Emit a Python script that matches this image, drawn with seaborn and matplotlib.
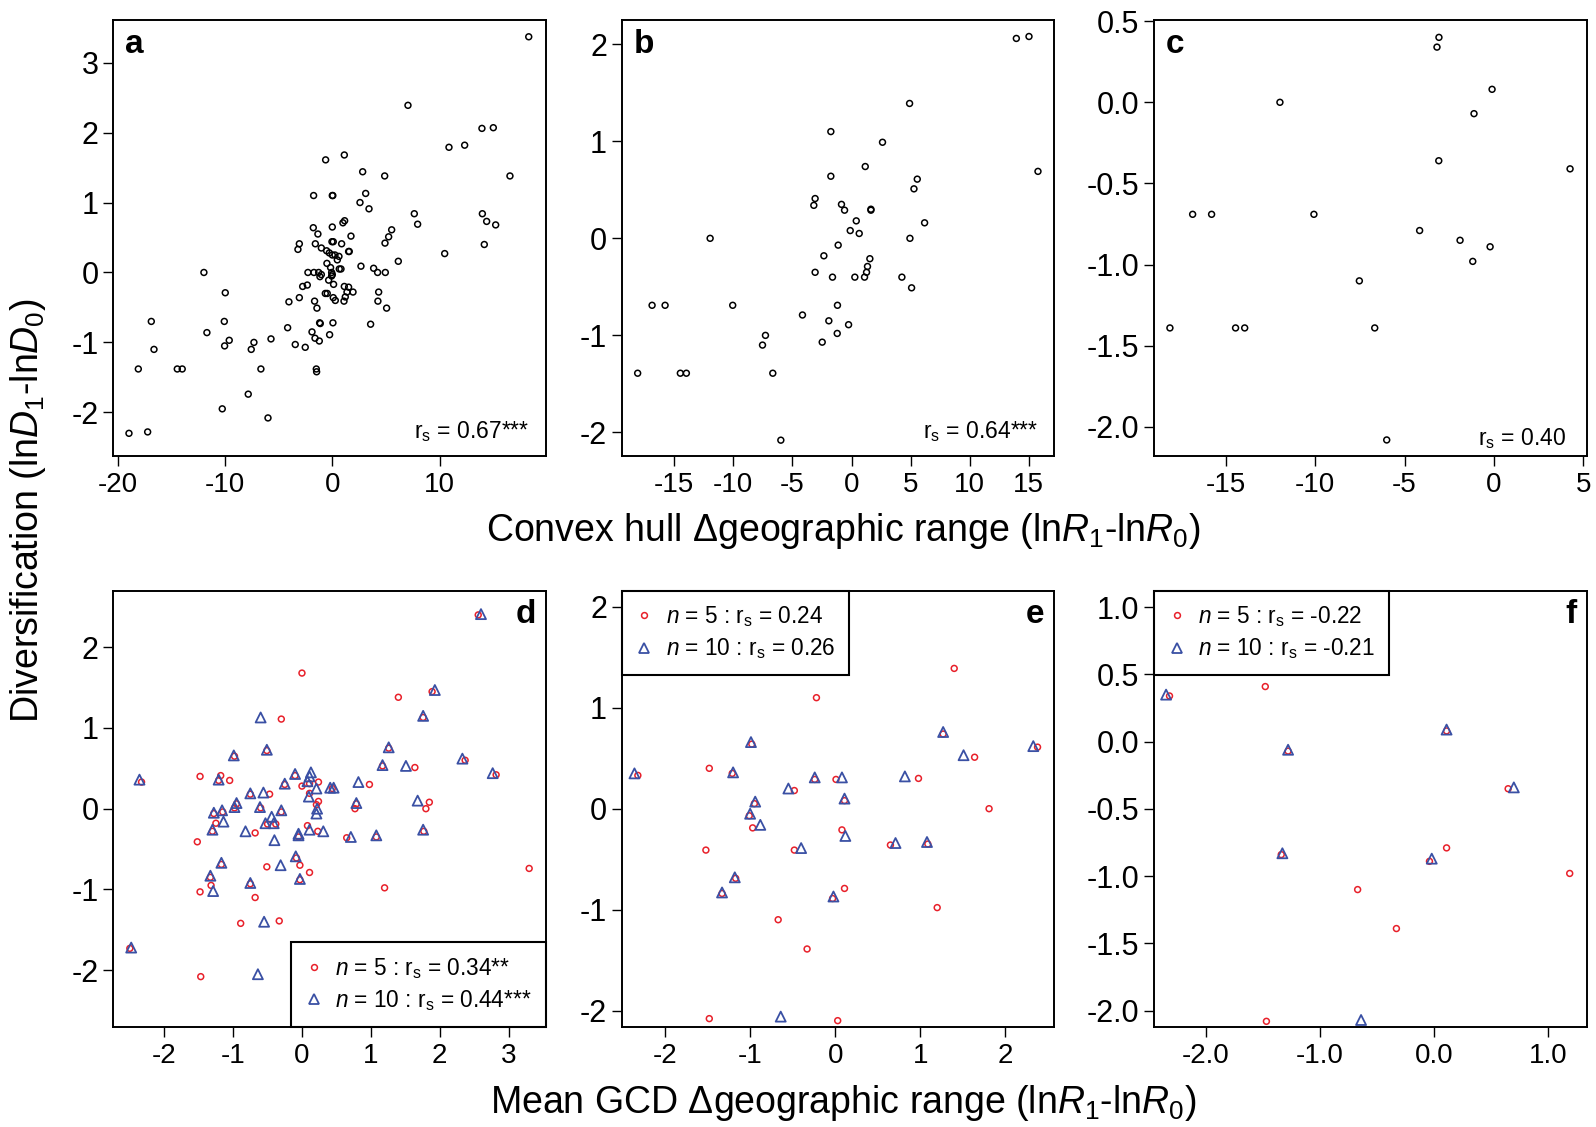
import matplotlib
matplotlib.use("Agg")
import matplotlib.pyplot as plt
from matplotlib.lines import Line2D
import seaborn as sns

# ---- data ----
# a: convex hull range change vs diversification (all)
a_x = [18.3, 7.05, 13.94, 15.0, 10.87, 12.33, 16.55, -0.62, 1.12, 2.83,
       4.88, -1.74, 0.0, 0.05, 3.11, 2.58, 3.42, 7.64, 7.95, 13.98,
       14.38, 15.22, 14.16, 10.47, 0.99, 1.15, -1.77, -1.34, 0.0, 1.74,
       5.53, 5.25, 4.91, -3.07, -3.2, -1.58, -1.02, -0.03, 0.09, 0.87,
       -0.53, -0.28, 0.0, 0.25, 0.62, 0.47, 1.58, 1.52, -0.5, -0.16,
       0.65, 0.81, -0.06, 0.0, -0.06, -1.15, -1.02, -2.27, -1.71, -1.27,
       -0.34, 0.12, 2.67, 3.85, 4.22, 4.94, 6.15, -11.96, -2.76, -2.33,
       -3.07, -4.04, -1.65, -1.43, -0.65, -0.47, 0.09, 0.28, 1.12, 1.52,
       1.37, 1.93, 1.21, 1.09, 4.32, 4.25, 5.06, 3.57, -9.97, -10.06,
       -16.86, -11.68, -16.61, -10.03, -9.6, -7.3, -7.55, -5.71, -4.16, -3.45,
       -2.52, -1.18, -1.12, -1.89, -1.61, -1.21, -0.25, 0.06, -18.07, -14.44,
       -13.98, -6.65, -1.49, -1.46, -7.83, -10.25, -5.99, -18.94, -17.2]
a_y = [3.37, 2.39, 2.06, 2.07, 1.79, 1.82, 1.38, 1.61, 1.68, 1.44,
       1.38, 1.10, 1.10, 1.10, 1.13, 1.0, 0.91, 0.84, 0.69, 0.84,
       0.73, 0.68, 0.40, 0.27, 0.71, 0.74, 0.64, 0.55, 0.65, 0.52,
       0.61, 0.51, 0.42, 0.41, 0.33, 0.41, 0.35, 0.44, 0.44, 0.41,
       0.31, 0.28, 0.25, 0.25, 0.23, 0.18, 0.30, 0.30, 0.13, 0.07,
       0.05, 0.05, 0.0, -0.03, -0.05, -0.06, -0.03, 0.0, 0.0, 0.0,
       -0.11, -0.17, 0.09, 0.06, 0.0, 0.0, 0.16, 0.0, -0.2, -0.18,
       -0.36, -0.42, -0.41, -0.51, -0.30, -0.30, -0.36, -0.40, -0.20, -0.21,
       -0.28, -0.28, -0.35, -0.41, -0.28, -0.41, -0.51, -0.74, -0.29, -0.70,
       -0.70, -0.86, -1.10, -1.05, -0.97, -1.0, -1.10, -0.95, -0.79, -1.03,
       -1.07, -0.72, -0.73, -0.85, -0.94, -0.98, -0.89, -0.72, -1.38, -1.38,
       -1.38, -1.38, -1.38, -1.42, -1.74, -1.95, -2.08, -2.30, -2.28]

b_x = [13.94, 15.01, 4.91, -1.75, 2.62, 1.16, -1.75, 15.77, 5.56, 5.28,
       -3.08, -3.19, -0.85, -0.59, 1.64, 1.64, 0.40, -0.11, 0.65, 6.18,
       -11.96, 4.94, -1.13, -2.34, 1.55, 1.35, 1.27, 1.10, 0.28, -1.61,
       -3.08, 4.26, 5.08, -16.87, -15.77, -10.05, -1.19, -4.15, -1.92, -0.25,
       -1.21, -7.28, -7.53, -2.48, -18.09, -14.48, -13.97, -6.66, -5.98]
b_y = [2.06, 2.08, 1.39, 1.10, 0.99, 0.74, 0.64, 0.69, 0.61, 0.51,
       0.41, 0.34, 0.35, 0.29, 0.30, 0.29, 0.18, 0.08, 0.05, 0.16,
       0.0, 0.0, -0.07, -0.18, -0.21, -0.29, -0.35, -0.40, -0.40, -0.40,
       -0.35, -0.40, -0.51, -0.69, -0.69, -0.69, -0.69, -0.79, -0.85, -0.89,
       -0.98, -1.0, -1.10, -1.07, -1.39, -1.39, -1.39, -1.39, -2.08]

c_x = [-3.08, -3.19, -11.97, -0.11, -1.12, -3.09, 4.25, -16.85, -15.79, -10.07,
       -4.16, -1.90, -0.22, -1.19, -7.53, -18.12, -14.45, -13.94, -6.67, -6.0]
c_y = [0.40, 0.34, 0.0, 0.08, -0.07, -0.36, -0.41, -0.69, -0.69, -0.69,
       -0.79, -0.85, -0.89, -0.98, -1.10, -1.39, -1.39, -1.39, -1.39, -2.08]

# d-f: mean GCD range change, n = 5 (circles) and n = 10 (triangles)
d5_x = [2.56, 0.0, 1.40, 1.89, 1.76, -0.30, -0.51, -0.98, 1.26, 1.17,
        1.64, 2.37, 2.82, 0.98, -2.33, -1.48, -1.18, -1.21, -1.05, -0.47,
        -0.75, -0.25, 0.0, 0.11, 0.24, 0.11, 0.24, 0.21, 0.44, -0.10,
        -0.95, -0.98, -0.60, -1.15, -1.28, -0.30, -1.25, -1.30, -0.50, -0.38,
        -0.68, 0.08, 0.23, -0.05, 0.65, 0.77, 0.79, 1.08, 1.80, 1.85,
        1.77, -1.52, -0.51, -0.03, 0.11, -0.08, -1.17, -1.33, -1.32, -1.48,
        -0.75, -0.68, 1.20, -0.03, 3.30, -0.89, -0.33, -2.50, -1.47]
d5_y = [2.40, 1.68, 1.38, 1.45, 1.13, 1.11, 0.72, 0.65, 0.75, 0.53,
        0.51, 0.60, 0.42, 0.30, 0.33, 0.40, 0.41, 0.35, 0.35, 0.18,
        0.18, 0.30, 0.28, 0.31, 0.33, 0.19, 0.09, 0.05, 0.25, 0.41,
        0.06, 0.01, 0.01, -0.04, -0.06, -0.04, -0.18, -0.28, -0.19, -0.19,
        -0.30, -0.21, -0.28, -0.35, -0.36, 0.00, 0.06, -0.35, 0.00, 0.08,
        -0.28, -0.41, -0.72, -0.70, -0.79, -0.61, -0.69, -0.85, -0.95, -1.03,
        -0.93, -1.10, -0.98, -0.88, -0.74, -1.42, -1.39, -1.73, -2.08]
d10_x = [2.60, 1.93, 1.76, -0.60, -0.51, -0.99, 1.26, 1.17, 1.51, 2.33,
         2.77, 0.82, -2.36, -1.21, -0.75, -0.56, -0.25, -0.10, 0.13, 0.11,
         0.08, 0.21, 0.41, 0.46, 0.10, 0.22, 0.21, -0.95, -0.98, -0.61,
         -1.16, -1.28, -0.30, -1.14, -1.30, -0.82, -0.53, -0.44, -0.41, -0.40,
         0.11, 0.31, -0.05, -0.05, 0.71, 0.79, 1.08, 1.68, 1.76, -0.09,
         -0.31, -1.17, -1.33, -1.29, -0.75, -0.03, -0.55, -2.48, -0.64]
d10_y = [2.41, 1.47, 1.15, 1.13, 0.73, 0.66, 0.76, 0.54, 0.53, 0.62,
         0.44, 0.33, 0.36, 0.36, 0.19, 0.20, 0.31, 0.43, 0.45, 0.40,
         0.34, 0.25, 0.26, 0.26, 0.15, 0.00, -0.06, 0.07, 0.02, 0.02,
         -0.02, -0.05, -0.02, -0.16, -0.26, -0.28, -0.18, -0.10, -0.18, -0.39,
         -0.26, -0.28, -0.33, -0.31, -0.35, 0.07, -0.33, 0.10, -0.26, -0.59,
         -0.70, -0.67, -0.83, -1.02, -0.92, -0.87, -1.40, -1.72, -2.05]

e5_x = [1.40, -0.22, 1.27, 1.64, 2.38, -0.98, -2.32, -1.48, -1.21, -0.24,
        0.01, 0.98, -0.48, 0.11, -0.95, 1.81, -1.01, -0.97, 0.08, -1.52,
        -0.48, 0.65, 1.09, -1.17, -1.33, 0.11, -0.03, 1.20, -0.67, -0.33,
        -1.48, 0.03]
e5_y = [1.39, 1.10, 0.74, 0.51, 0.61, 0.64, 0.33, 0.40, 0.35, 0.29,
        0.29, 0.30, 0.18, 0.08, 0.05, 0.00, -0.07, -0.19, -0.21, -0.41,
        -0.41, -0.36, -0.35, -0.69, -0.84, -0.79, -0.89, -0.98, -1.10, -1.39,
        -2.08, -2.10]
e10_x = [1.27, 1.51, 2.33, -0.99, -2.36, -1.20, -0.24, 0.08, 0.82, -0.55,
         0.11, -0.94, -1.00, -0.88, 0.12, -0.40, 0.71, 1.08, -1.18, -1.33,
         -0.02, -0.64]
e10_y = [0.76, 0.53, 0.62, 0.66, 0.35, 0.36, 0.31, 0.31, 0.32, 0.20,
         0.10, 0.07, -0.05, -0.16, -0.27, -0.39, -0.34, -0.33, -0.68, -0.83,
         -0.87, -2.06]

f5_x = [-2.32, -1.48, -1.28, -1.34, 0.11, 0.65, 0.11, -0.04, -0.67, -0.33, 1.19, -1.47]
f5_y = [0.34, 0.41, -0.07, -0.84, 0.08, -0.35, -0.79, -0.89, -1.10, -1.39, -0.98, -2.08]
f10_x = [-2.35, -1.28, -1.33, 0.11, 0.70, -0.02, -0.64]
f10_y = [0.35, -0.06, -0.83, 0.09, -0.34, -0.87, -2.07]

rs_top = ["0.67***", "0.64***", "0.40"]
leg_d = [r"$n$ = 5 : r$_\mathrm{s}$ = 0.34**", r"$n$ = 10 : r$_\mathrm{s}$ = 0.44***"]
leg_e = [r"$n$ = 5 : r$_\mathrm{s}$ = 0.24", r"$n$ = 10 : r$_\mathrm{s}$ = 0.26"]
leg_f = [r"$n$ = 5 : r$_\mathrm{s}$ = -0.22", r"$n$ = 10 : r$_\mathrm{s}$ = -0.21"]

# ---- style ----
sns.set_style("ticks")
plt.rcParams['font.family'] = ['Liberation Sans', 'DejaVu Sans']
plt.rcParams['mathtext.fontset'] = 'custom'
plt.rcParams['mathtext.rm'] = 'Liberation Sans'
plt.rcParams['mathtext.it'] = 'Liberation Sans:italic'
plt.rcParams['mathtext.bf'] = 'Liberation Sans:bold'
plt.rcParams['axes.unicode_minus'] = False
plt.rcParams['text.color'] = 'black'
plt.rcParams['axes.labelcolor'] = 'black'
plt.rcParams['xtick.color'] = 'black'
plt.rcParams['ytick.color'] = 'black'
plt.rcParams['axes.edgecolor'] = 'black'

RED = '#E8202A'
BLUE = '#3A50A4'

W, H = 1596, 1127
fig = plt.figure(figsize=(W / 100, H / 100), dpi=100)


def add_ax(left, top, right, bottom):
    return fig.add_axes([left / W, 1 - bottom / H, (right - left) / W, (bottom - top) / H])


cols = [(113.3, 545.7), (621.7, 1053.7), (1154, 1586.7)]
rows = [(20, 455.7), (590.7, 1026.7)]


def style(ax, xlim, ylim, xticks, yticks, xfmt="{:g}", yfmt="{:g}"):
    ax.set_xlim(xlim)
    ax.set_ylim(ylim)
    ax.set_xticks(xticks)
    ax.set_yticks(yticks)
    ax.set_xticklabels([xfmt.format(v) for v in xticks])
    ax.set_yticklabels([yfmt.format(v) for v in yticks])
    for s in ax.spines.values():
        s.set_visible(True)
        s.set_linewidth(1.4)
        s.set_color('black')
    ax.tick_params(direction='out', length=7.5, width=1.0, colors='black',
                   labelcolor='black')
    ax.tick_params(axis='x', labelsize=20, pad=4)
    ax.tick_params(axis='y', labelsize=22, pad=3)
    ax.set_xlabel('')
    ax.set_ylabel('')


def dots(ax, x, y, color, marker='o', s=18, lw=1.1):
    sns.scatterplot(x=x, y=y, ax=ax, marker=marker, s=s, legend=False)
    coll = ax.collections[-1]
    coll.set_facecolor('none')
    coll.set_edgecolor(color)
    coll.set_linewidth(lw)


def letter(ax, txt, right=False):
    if right:
        ax.annotate(txt, xy=(1, 1), xycoords='axes fraction', xytext=(-7, -23.5),
                    textcoords='offset points', ha='right', va='baseline',
                    fontsize=24, fontweight='bold', color='black')
    else:
        ax.annotate(txt, xy=(0, 1), xycoords='axes fraction', xytext=(8.4, -24),
                    textcoords='offset points', ha='left', va='baseline',
                    fontsize=24, fontweight='bold', color='black')


def rs_note(ax, val, dx=-12, dy=12.7):
    ax.annotate(r"r$_\mathrm{s}$ = " + val, xy=(1, 0), xycoords='axes fraction',
                xytext=(dx, dy), textcoords='offset points', ha='right', va='baseline',
                fontsize=16.5, color='black')


def add_legend(ax, labels, loc):
    h5 = Line2D([], [], ls='none', marker='o', ms=4.2, mfc='none', mec=RED, mew=1.1)
    h10 = Line2D([], [], ls='none', marker='^', ms=7.2, mfc='none', mec=BLUE, mew=1.3)
    leg = ax.legend([h5, h10], labels, loc=loc, borderaxespad=0, fontsize=16.3,
                    frameon=True, fancybox=False, edgecolor='black', framealpha=1,
                    handlelength=0.8, handletextpad=0.55, borderpad=0.6,
                    labelspacing=0.32)
    leg.get_frame().set_linewidth(1.5)
    for t in leg.get_texts():
        t.set_color('black')


# ---- top row ----
ax_a = add_ax(cols[0][0], rows[0][0], cols[0][1], rows[0][1])
dots(ax_a, a_x, a_y, 'black')
style(ax_a, (-20.4, 19.88), (-2.62, 3.61), [-20, -10, 0, 10], [-2, -1, 0, 1, 2, 3])
letter(ax_a, 'a')
rs_note(ax_a, rs_top[0])

ax_b = add_ax(cols[1][0], rows[0][0], cols[1][1], rows[0][1])
dots(ax_b, b_x, b_y, 'black')
style(ax_b, (-19.44, 17.1), (-2.24, 2.25), [-15, -10, -5, 0, 5, 10, 15], [-2, -1, 0, 1, 2])
letter(ax_b, 'b')
rs_note(ax_b, rs_top[1], dx=-11)

ax_c = add_ax(cols[2][0], rows[0][0], cols[2][1], rows[0][1])
dots(ax_c, c_x, c_y, 'black')
style(ax_c, (-19.01, 5.18), (-2.177, 0.507), [-15, -10, -5, 0, 5],
      [-2.0, -1.5, -1.0, -0.5, 0.0, 0.5], yfmt="{:.1f}")
letter(ax_c, 'c')
rs_note(ax_c, rs_top[2], dx=-15, dy=7.7)

# ---- bottom row ----
ax_d = add_ax(cols[0][0], rows[1][0], cols[0][1], rows[1][1])
dots(ax_d, d5_x, d5_y, RED)
dots(ax_d, d10_x, d10_y, BLUE, marker='^', s=52, lw=1.3)
style(ax_d, (-2.74, 3.54), (-2.70, 2.70), [-2, -1, 0, 1, 2, 3], [-2, -1, 0, 1, 2])
letter(ax_d, 'd', right=True)
add_legend(ax_d, leg_d, 'lower right')

ax_e = add_ax(cols[1][0], rows[1][0], cols[1][1], rows[1][1])
dots(ax_e, e5_x, e5_y, RED)
dots(ax_e, e10_x, e10_y, BLUE, marker='^', s=52, lw=1.3)
style(ax_e, (-2.51, 2.57), (-2.16, 2.16), [-2, -1, 0, 1, 2], [-2, -1, 0, 1, 2])
letter(ax_e, 'e', right=True)
add_legend(ax_e, leg_e, 'upper left')

ax_f = add_ax(cols[2][0], rows[1][0], cols[2][1], rows[1][1])
dots(ax_f, f5_x, f5_y, RED)
dots(ax_f, f10_x, f10_y, BLUE, marker='^', s=52, lw=1.3)
style(ax_f, (-2.456, 1.339), (-2.12, 1.123), [-2.0, -1.0, 0.0, 1.0],
      [-2.0, -1.5, -1.0, -0.5, 0.0, 0.5, 1.0], xfmt="{:.1f}", yfmt="{:.1f}")
letter(ax_f, 'f', right=True)
add_legend(ax_f, leg_f, 'upper left')

# ---- shared axis labels ----
fig.text(843 / W, 0.529, r"Convex hull Δgeographic range (ln$R_1$-ln$R_0$)",
         ha='center', va='center', fontsize=27, color='black')
fig.text(843 / W, 0.021, r"Mean GCD Δgeographic range (ln$R_1$-ln$R_0$)",
         ha='center', va='center', fontsize=27, color='black')
fig.text(28 / W, 0.5466, r"Diversification (ln$D_1$-ln$D_0$)",
         rotation=90, ha='center', va='center', fontsize=27, color='black')

fig.savefig("out.png", dpi=100)
